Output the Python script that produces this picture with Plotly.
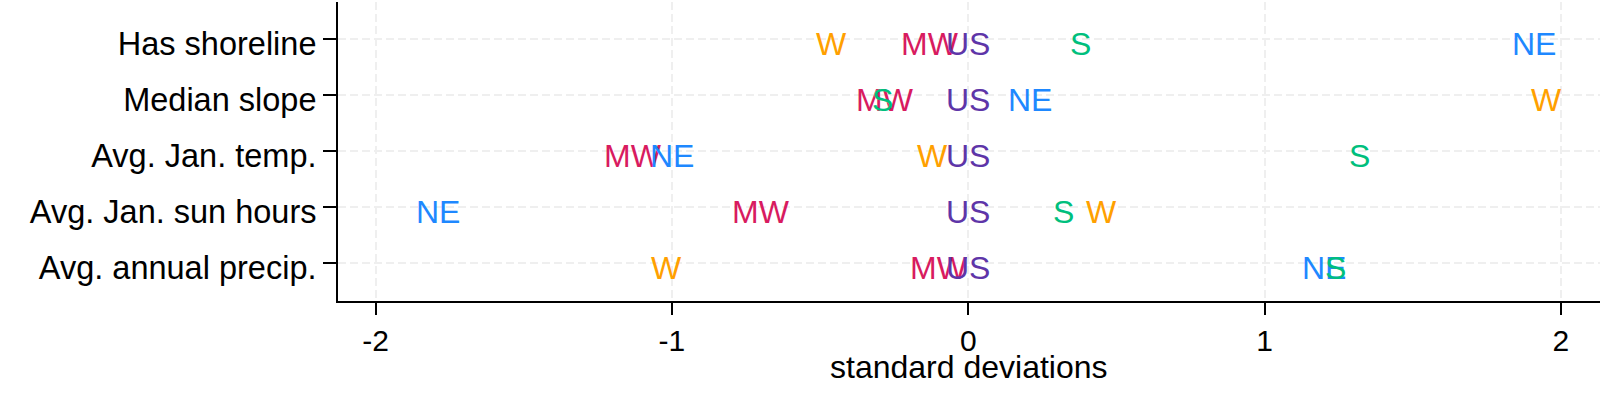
import plotly.graph_objects as go

variables = ["Has shoreline", "Median slope", "Avg. Jan. temp.",
             "Avg. Jan. sun hours", "Avg. annual precip."]
regions = ["MW", "NE", "S", "W", "US"]
mw = [-0.13, -0.28, -1.13, -0.70, -0.10]
ne = [1.91, 0.21, -1.00, -1.79, 1.20]
s_ = [0.38, -0.29, 1.32, 0.32, 1.24]
w = [-0.46, 1.95, -0.12, 0.45, -1.02]
us = [0.0, 0.0, 0.0, 0.0, 0.0]
x_ticks = [-2, -1, 0, 1, 2]

series = {"MW": mw, "NE": ne, "S": s_, "W": w, "US": us}
colors = {"MW": "#D81B60", "NE": "#1E88FF", "S": "#00BF7D",
          "W": "#FFA000", "US": "#5E35A8"}

FONT = "Liberation Sans, Arial, Helvetica, sans-serif"

fig = go.Figure()
# invisible trace to establish the axes
fig.add_trace(go.Scatter(x=us, y=variables, mode="markers",
                         marker=dict(opacity=0), showlegend=False,
                         hoverinfo="skip"))
for r in regions:
    for xv, yv in zip(series[r], variables):
        fig.add_annotation(x=xv, y=yv, xref="x", yref="y", text=r,
                           showarrow=False, xanchor="center", yanchor="middle",
                           yshift=-5,
                           font=dict(family=FONT, size=32, color=colors[r]))

fig.add_annotation(text="standard deviations", xref="paper", yref="paper",
                   x=0.5, y=0, xanchor="center", yanchor="middle", yshift=-66,
                   showarrow=False,
                   font=dict(family=FONT, size=32, color="black"))

fig.update_layout(
    width=1600, height=394,
    margin=dict(l=338, r=0, t=2, b=93),
    paper_bgcolor="white", plot_bgcolor="white",
    font=dict(family=FONT, color="black"),
)
fig.update_xaxes(
    range=[-2.127, 2.132], tickmode="array", tickvals=x_ticks,
    ticktext=[str(t) for t in x_ticks],
    ticks="outside", ticklen=12, tickwidth=1.5, tickcolor="black",
    showline=True, linewidth=2, linecolor="black", mirror=False,
    showgrid=True, gridcolor="#efefef", gridwidth=2, griddash="8px,4px",
    zeroline=False, tickfont=dict(size=30, family=FONT, color="black"),
)
fig.update_yaxes(
    type="category", categoryorder="array", categoryarray=variables,
    range=[4.673, -0.666],
    ticks="outside", ticklen=13, tickwidth=1.5, tickcolor="black",
    showline=True, linewidth=2, linecolor="black",
    showgrid=True, gridcolor="#efefef", gridwidth=2, griddash="8px,4px",
    zeroline=False, tickfont=dict(size=32.5, family=FONT, color="black"),
    ticklabelshift=-4,
)

fig.write_html("out.html", config={"displayModeBar": False},
               post_script="document.body.style.margin='0';document.body.style.overflow='hidden';")
